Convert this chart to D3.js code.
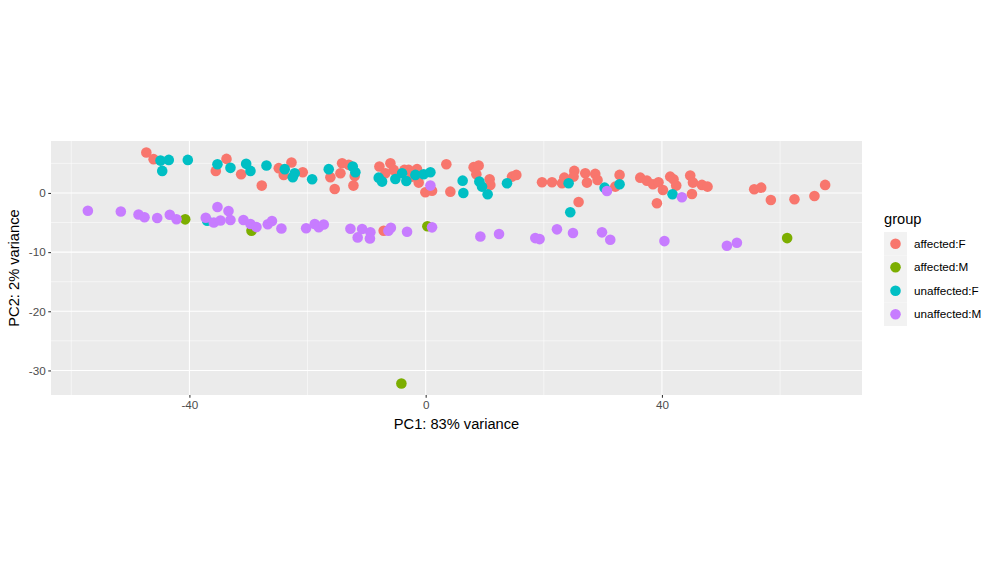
<!DOCTYPE html>
<html>
<head>
<meta charset="utf-8">
<script src="https://cdn.jsdelivr.net/npm/d3@7"></script>
<style>
  html, body { margin: 0; padding: 0; background: #ffffff; }
  svg { display: block; font-family: "Liberation Sans", Arial, Helvetica, sans-serif; }
</style>
</head>
<body>
<svg id="chart" width="1000" height="574"></svg>
<script>
// ---- data ----
const groups = ["affected:F", "affected:M", "unaffected:F", "unaffected:M"];
const groupColors = ["#F8766D", "#7CAE00", "#00BFC4", "#C77CFF"];

const affectedF_pc1 = [-47.29,-46.06,-33.72,-35.53,-31.24,-27.75,-24.87,-24.03,-22.72,-20.81,-16.13,-15.40,-14.15,-14.43,-13.03,-12.23,-12.01,-7.83,-5.97,-6.82,-5.41,-3.60,-2.88,-2.30,-1.46,-1.18,-0.05,1.08,3.50,4.18,8.12,8.97,8.58,10.83,10.95,14.62,15.35,19.70,21.39,23.08,23.47,25.16,25.04,27.02,27.31,28.71,29.10,32.10,32.83,36.33,37.46,38.48,25.89,39.15,39.42,40.17,41.40,41.96,42.42,44.79,45.25,46.77,47.72,45.08,55.62,56.80,58.44,62.44,65.82,67.63,-7.11];
const affectedF_pc2 = [6.83,5.71,5.76,3.73,3.17,1.24,4.19,3.05,5.14,3.51,2.66,0.68,5.03,3.34,4.75,1.24,2.88,4.46,5.03,3.34,3.90,3.90,3.90,2.76,4.02,1.75,0.12,0.39,4.86,0.22,4.36,4.63,3.17,2.32,1.36,2.76,3.05,1.81,1.81,1.64,2.59,3.73,2.76,3.34,1.75,3.22,2.20,1.07,3.05,2.59,2.08,1.47,-1.53,-1.75,1.81,0.51,2.76,2.32,1.24,2.93,1.75,1.36,1.07,-0.17,0.63,0.90,-1.19,-1.07,-0.51,1.36,-6.39];

const affectedM_pc1 = [-40.71,-29.49,0.29,-4.11,61.20];
const affectedM_pc2 = [-4.46,-6.39,-5.63,-32.20,-7.63];

const unaffectedF_pc1 = [-44.89,-43.49,-44.60,-40.27,-35.25,-33.05,-30.39,-29.66,-26.95,-23.86,-22.17,-22.50,-19.22,-16.41,-12.35,-11.90,-7.95,-7.38,-5.13,-3.99,-3.27,-1.74,-0.34,0.80,6.26,6.38,9.09,9.54,10.49,13.77,24.20,24.48,30.29,32.83,41.79,-36.99];
const unaffectedF_pc2 = [5.47,5.59,3.73,5.59,4.86,4.24,4.92,3.73,4.63,4.02,3.34,2.66,2.32,4.02,4.46,3.51,2.59,1.92,2.37,3.34,2.03,3.05,3.17,3.51,2.08,0.00,1.92,1.07,-0.22,1.64,1.64,-3.27,0.90,1.47,-0.22,-4.69];

const unaffectedM_pc1 = [-57.19,-51.61,-48.61,-47.60,-45.45,-43.32,-42.18,-37.23,-35.25,-33.38,-35.87,-34.74,-33.05,-30.85,-29.66,-28.65,-26.73,-26.02,-24.42,-20.24,-18.78,-18.10,-17.26,-12.74,-10.76,-11.51,-9.36,-9.44,-6.31,-5.89,-3.15,1.08,0.80,9.26,12.42,18.56,19.29,22.23,24.94,29.85,31.25,30.69,40.42,43.38,51.00,52.69];
const unaffectedM_pc2 = [-3.00,-3.14,-3.64,-4.10,-4.24,-3.68,-4.44,-4.19,-2.37,-3.05,-5.00,-4.66,-4.58,-4.58,-5.25,-5.76,-5.29,-4.75,-6.02,-5.97,-5.25,-5.80,-5.34,-6.05,-6.10,-7.51,-6.66,-7.68,-6.39,-5.88,-6.56,-5.81,1.24,-7.37,-6.95,-7.63,-7.80,-6.15,-6.78,-6.66,-7.92,0.34,-8.14,-0.73,-8.93,-8.42];

const xTicks = [-40, 0, 40];
const xMinor = [-60, -20, 20, 60];
const yTicks = [0, -10, -20, -30];
const yMinor = [5, -5, -15, -25];

const xTitle = "PC1: 83% variance";
const yTitle = "PC2: 2% variance";
const legendTitle = "group";

// ---- build table ----
const seriesX = [affectedF_pc1, affectedM_pc1, unaffectedF_pc1, unaffectedM_pc1];
const seriesY = [affectedF_pc2, affectedM_pc2, unaffectedF_pc2, unaffectedM_pc2];
const points = [];
groups.forEach((g, gi) => {
  seriesX[gi].forEach((v, i) => points.push({ group: g, gi: gi, x: v, y: seriesY[gi][i] }));
});

// ---- layout ----
const panel = { left: 51, right: 862, top: 141, bottom: 395 };

function expand(ext) {
  const r = ext[1] - ext[0];
  return [ext[0] - 0.05 * r, ext[1] + 0.05 * r];
}
const x = d3.scaleLinear()
  .domain(expand(d3.extent(points, d => d.x)))
  .range([panel.left, panel.right]);
const y = d3.scaleLinear()
  .domain(expand(d3.extent(points, d => d.y)))
  .range([panel.bottom, panel.top]);

const color = d3.scaleOrdinal().domain(groups).range(groupColors);

const svg = d3.select("#chart");

// panel background
svg.append("rect")
  .attr("x", panel.left).attr("y", panel.top)
  .attr("width", panel.right - panel.left)
  .attr("height", panel.bottom - panel.top)
  .attr("fill", "#EBEBEB");

const grid = svg.append("g");
// minor grid
grid.selectAll(".xminor").data(xMinor).join("line")
  .attr("x1", d => x(d)).attr("x2", d => x(d))
  .attr("y1", panel.top).attr("y2", panel.bottom)
  .attr("stroke", "#fff").attr("stroke-width", 0.53);
grid.selectAll(".yminor").data(yMinor).join("line")
  .attr("y1", d => y(d)).attr("y2", d => y(d))
  .attr("x1", panel.left).attr("x2", panel.right)
  .attr("stroke", "#fff").attr("stroke-width", 0.53);
// major grid
grid.selectAll(".xmajor").data(xTicks).join("line")
  .attr("x1", d => x(d)).attr("x2", d => x(d))
  .attr("y1", panel.top).attr("y2", panel.bottom)
  .attr("stroke", "#fff").attr("stroke-width", 1.07);
grid.selectAll(".ymajor").data(yTicks).join("line")
  .attr("y1", d => y(d)).attr("y2", d => y(d))
  .attr("x1", panel.left).attr("x2", panel.right)
  .attr("stroke", "#fff").attr("stroke-width", 1.07);

// points
svg.append("g").selectAll("circle").data(points).join("circle")
  .attr("cx", d => x(d.x))
  .attr("cy", d => y(d.y))
  .attr("r", 5.3)
  .attr("fill", d => color(d.group));

// axes
const xAxis = d3.axisBottom(x).tickValues(xTicks).tickSize(2.74).tickPadding(2.5).tickFormat(d3.format("d"));
const yAxis = d3.axisLeft(y).tickValues(yTicks).tickSize(2.74).tickPadding(2.5).tickFormat(d3.format("d"));

const gx = svg.append("g").attr("transform", `translate(0,${panel.bottom})`).call(xAxis);
const gy = svg.append("g").attr("transform", `translate(${panel.left},0)`).call(yAxis);
[gx, gy].forEach(g => {
  g.select(".domain").remove();
  g.selectAll(".tick line").attr("stroke", "#333333").attr("stroke-width", 1.07);
  g.selectAll(".tick text")
    .attr("fill", "#4D4D4D")
    .style("font-size", "11.7px")
    .style("font-family", "'Liberation Sans', Arial, sans-serif");
});
gx.selectAll(".tick text").text(d => d < 0 ? "-" + Math.abs(d) : d);
gy.selectAll(".tick text").text(d => d < 0 ? "-" + Math.abs(d) : d);

// axis titles
svg.append("text")
  .attr("x", (panel.left + panel.right) / 2)
  .attr("y", 429)
  .attr("text-anchor", "middle")
  .style("font-size", "14.67px")
  .attr("fill", "#000")
  .text(xTitle);

svg.append("text")
  .attr("transform", `translate(19,${(panel.top + panel.bottom) / 2}) rotate(-90)`)
  .attr("text-anchor", "middle")
  .style("font-size", "14.67px")
  .attr("fill", "#000")
  .text(yTitle);

// legend
const leg = svg.append("g").attr("transform", "translate(884,0)");
leg.append("text")
  .attr("x", 0).attr("y", 224)
  .style("font-size", "14.67px")
  .attr("fill", "#000")
  .text(legendTitle);

const keyH = 23.5, keyW = 23, keyTop = 232;
const items = leg.selectAll(".item").data(groups).join("g")
  .attr("transform", (d, i) => `translate(0,${keyTop + i * keyH})`);
items.append("rect")
  .attr("width", keyW).attr("height", keyH)
  .attr("fill", "#F2F2F2");
items.append("circle")
  .attr("cx", keyW / 2).attr("cy", keyH / 2)
  .attr("r", 5.3)
  .attr("fill", d => color(d));
items.append("text")
  .attr("x", 30).attr("y", keyH / 2)
  .attr("dy", "0.35em")
  .style("font-size", "11.7px")
  .attr("fill", "#000")
  .text(d => d);
</script>
</body>
</html>
